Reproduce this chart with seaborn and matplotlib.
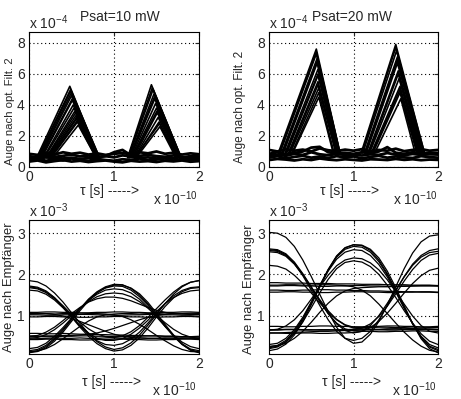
import matplotlib
matplotlib.use("Agg")
import matplotlib.pyplot as plt
import pandas as pd
import seaborn as sns

# time axis in units of 1e-10 s
T_GRID = [0.0, 0.1, 0.2, 0.3, 0.4, 0.5, 0.6, 0.7, 0.8, 0.9, 1.0,
          1.1, 1.2, 1.3, 1.4, 1.5, 1.6, 1.7, 1.8, 1.9, 2.0]

# ---- optical eye after filter, Psat = 10 mW (units 1e-4) ----
f10_base_level = 0.6
f10_rise = [0.09, 0.10, 0.11, 0.12, 0.13, 0.14, 0.15, 0.17, 0.18, 0.20, 0.21, 0.22, 0.23, 0.24, 0.25, 0.26, 0.28,
            1.16, 1.165, 1.17, 1.18, 1.185, 1.19, 1.20, 1.21, 1.215, 1.23, 1.24, 1.245, 1.25, 1.26]
f10_peak_t = [0.48, 0.49, 0.49, 0.50, 0.50, 0.51, 0.51, 0.52, 0.53, 0.54, 0.55, 0.55, 0.56, 0.56, 0.57, 0.57, 0.58,
              1.44, 1.45, 1.46, 1.47, 1.475, 1.48, 1.49, 1.50, 1.505, 1.51, 1.52, 1.535, 1.53, 1.54]
f10_peak_v = [5.2, 5.0, 4.9, 4.8, 4.6, 4.4, 4.3, 4.0, 3.8, 3.6, 3.5, 3.3, 3.2, 3.1, 3.0, 2.9, 2.7,
              5.3, 5.1, 5.0, 4.7, 4.5, 4.4, 4.1, 3.8, 3.6, 3.5, 3.2, 2.8, 2.9, 2.6]
f10_fall = [0.82, 0.83, 0.83, 0.82, 0.82, 0.81, 0.81, 0.82, 0.81, 0.81, 0.81, 0.80, 0.80, 0.80, 0.80, 0.79, 0.79,
            1.79, 1.79, 1.79, 1.78, 1.78, 1.78, 1.77, 1.77, 1.77, 1.76, 1.75, 1.74, 1.74, 1.73]
f10_zeros = [
    [0.45, 0.55, 0.40, 0.50, 0.42, 0.55, 0.45, 0.40, 0.52, 0.45, 0.40, 0.50, 0.45, 0.55, 0.42, 0.48, 0.55, 0.42, 0.50, 0.45, 0.48],
    [0.70, 0.62, 0.75, 0.65, 0.72, 0.80, 0.68, 0.74, 0.65, 0.70, 0.62, 0.75, 0.68, 0.72, 0.78, 0.70, 0.66, 0.75, 0.62, 0.70, 0.68],
    [0.85, 0.78, 0.90, 0.80, 0.95, 0.85, 0.92, 0.80, 0.88, 0.78, 0.85, 0.90, 0.82, 0.95, 0.88, 1.00, 0.85, 0.92, 0.80, 0.88, 0.82],
    [0.35, 0.42, 0.30, 0.38, 0.45, 0.35, 0.40, 0.32, 0.38, 0.42, 0.35, 0.30, 0.40, 0.35, 0.38, 0.32, 0.40, 0.36, 0.42, 0.34, 0.38],
    [0.60, 0.55, 0.62, 0.58, 0.55, 0.60, 0.52, 0.58, 0.62, 0.70, 0.95, 1.10, 0.75, 0.58, 0.62, 0.55, 0.60, 0.58, 0.64, 0.56, 0.60],
]

# ---- optical eye after filter, Psat = 20 mW (units 1e-4) ----
f20_base_level = 0.9
f20_rise = [0.11, 0.12, 0.13, 0.15, 0.16, 0.17, 0.19, 0.20, 0.21, 0.23, 0.24, 0.25, 0.27, 0.28,
            1.09, 1.10, 1.11, 1.13, 1.14, 1.15, 1.17, 1.18, 1.19, 1.21, 1.22, 1.23, 1.25]
f20_peak_t = [0.56, 0.56, 0.56, 0.57, 0.57, 0.57, 0.58, 0.58, 0.58, 0.58, 0.58, 0.59, 0.59, 0.59,
              1.50, 1.50, 1.51, 1.52, 1.52, 1.52, 1.53, 1.53, 1.54, 1.55, 1.55, 1.55, 1.56]
f20_peak_v = [7.6, 7.4, 7.3, 7.0, 6.8, 6.7, 6.3, 6.0, 5.9, 5.5, 5.3, 5.1, 4.8, 4.5,
              7.9, 7.7, 7.5, 7.1, 6.9, 6.7, 6.2, 6.0, 5.7, 5.2, 5.0, 4.8, 4.4]
f20_fall = [0.84, 0.84, 0.84, 0.83, 0.83, 0.83, 0.82, 0.81, 0.81, 0.80, 0.80, 0.79, 0.77, 0.76,
            1.84, 1.84, 1.83, 1.82, 1.82, 1.81, 1.80, 1.79, 1.78, 1.77, 1.76, 1.75, 1.73]
f20_zeros = [
    [0.85, 0.95, 0.80, 0.90, 1.00, 1.25, 1.30, 0.95, 0.88, 0.92, 0.85, 0.95, 0.90, 1.00, 1.28, 0.92, 0.85, 0.95, 0.88, 0.92, 0.90],
    [0.60, 0.70, 0.55, 0.65, 0.72, 0.60, 0.68, 0.58, 0.70, 0.62, 0.68, 0.55, 0.65, 0.72, 0.60, 0.68, 0.62, 0.58, 0.70, 0.64, 0.60],
    [1.10, 1.00, 1.15, 1.05, 1.12, 1.00, 1.20, 1.08, 1.02, 1.12, 1.05, 1.15, 1.00, 1.10, 1.05, 1.18, 1.02, 1.10, 1.15, 1.05, 1.10],
    [0.45, 0.52, 0.48, 0.42, 0.50, 0.45, 0.55, 0.48, 0.44, 0.50, 0.46, 0.42, 0.50, 0.48, 0.45, 0.52, 0.46, 0.50, 0.44, 0.48, 0.46],
    [0.75, 0.80, 0.72, 0.85, 0.78, 0.95, 0.82, 0.76, 0.84, 0.78, 0.80, 0.74, 0.82, 0.78, 0.90, 0.80, 0.76, 0.84, 0.78, 0.82, 0.80],
]

# ---- electrical eye after receiver, Psat = 10 mW (units 1e-3) ----
rx10_traces = [
    [0.12, 0.15, 0.25, 0.42, 0.64, 0.90, 1.16, 1.40, 1.58, 1.70, 1.76, 1.75, 1.66, 1.50, 1.28, 1.02, 0.76, 0.52, 0.32, 0.19, 0.15],
    [0.15, 0.18, 0.28, 0.45, 0.67, 0.92, 1.17, 1.39, 1.56, 1.67, 1.72, 1.71, 1.62, 1.46, 1.25, 1.00, 0.74, 0.50, 0.30, 0.17, 0.12],
    [0.20, 0.23, 0.33, 0.50, 0.71, 0.94, 1.17, 1.37, 1.52, 1.62, 1.65, 1.63, 1.55, 1.40, 1.20, 0.97, 0.74, 0.53, 0.36, 0.25, 0.20],
    [0.45, 0.47, 0.54, 0.66, 0.82, 1.00, 1.18, 1.34, 1.46, 1.53, 1.55, 1.53, 1.46, 1.34, 1.18, 1.00, 0.83, 0.67, 0.55, 0.48, 0.45],
    [0.10, 0.13, 0.22, 0.38, 0.60, 0.86, 1.12, 1.36, 1.55, 1.68, 1.74, 1.74, 1.67, 1.53, 1.32, 1.06, 0.79, 0.53, 0.31, 0.16, 0.10],
    [0.50, 0.52, 0.60, 0.72, 0.88, 1.05, 1.20, 1.33, 1.41, 1.45, 1.45, 1.42, 1.36, 1.28, 1.20, 1.13, 1.08, 1.05, 1.04, 1.03, 1.03],
    [1.85, 1.82, 1.72, 1.55, 1.33, 1.07, 0.81, 0.57, 0.37, 0.24, 0.18, 0.22, 0.34, 0.53, 0.77, 1.03, 1.29, 1.52, 1.70, 1.81, 1.85],
    [1.68, 1.65, 1.56, 1.41, 1.21, 0.98, 0.75, 0.55, 0.39, 0.30, 0.28, 0.32, 0.43, 0.60, 0.82, 1.06, 1.29, 1.48, 1.61, 1.68, 1.70],
    [1.62, 1.60, 1.52, 1.38, 1.19, 0.97, 0.76, 0.58, 0.45, 0.40, 0.40, 0.44, 0.55, 0.70, 0.89, 1.10, 1.29, 1.44, 1.54, 1.60, 1.62],
    [1.72, 1.69, 1.60, 1.44, 1.22, 0.97, 0.72, 0.50, 0.32, 0.20, 0.14, 0.17, 0.28, 0.46, 0.70, 0.97, 1.22, 1.43, 1.58, 1.66, 1.68],
    [1.70, 1.67, 1.58, 1.43, 1.24, 1.03, 0.84, 0.68, 0.56, 0.49, 0.46, 0.45, 0.45, 0.46, 0.45, 0.45, 0.46, 0.45, 0.45, 0.46, 0.45],
    [1.05, 1.05, 1.05, 1.03, 0.99, 0.93, 0.86, 0.78, 0.70, 0.62, 0.55, 0.50, 0.47, 0.46, 0.45, 0.45, 0.45, 0.46, 0.46, 0.45, 0.45],
    [0.46, 0.45, 0.45, 0.46, 0.45, 0.45, 0.46, 0.45, 0.45, 0.46, 0.47, 0.51, 0.61, 0.76, 0.96, 1.17, 1.38, 1.57, 1.72, 1.81, 1.85],
    [0.50, 0.50, 0.51, 0.51, 0.52, 0.52, 0.53, 0.55, 0.58, 0.63, 0.69, 0.76, 0.83, 0.90, 0.96, 1.00, 1.03, 1.05, 1.05, 1.06, 1.06],
    [1.04, 1.05, 1.05, 1.04, 1.05, 1.05, 1.04, 1.05, 1.05, 1.04, 1.02, 0.98, 0.90, 0.79, 0.66, 0.52, 0.39, 0.27, 0.18, 0.13, 0.12],
    [0.12, 0.14, 0.20, 0.30, 0.44, 0.59, 0.74, 0.87, 0.97, 1.02, 1.04, 1.05, 1.05, 1.04, 1.05, 1.05, 1.04, 1.05, 1.05, 1.04, 1.05],
    [1.08, 1.08, 1.09, 1.09, 1.08, 1.08, 1.07, 1.07, 1.08, 1.08, 1.09, 1.09, 1.08, 1.08, 1.07, 1.07, 1.08, 1.08, 1.09, 1.09, 1.08],
    [1.02, 1.02, 1.01, 1.01, 1.02, 1.02, 1.03, 1.03, 1.02, 1.02, 1.01, 1.01, 1.02, 1.02, 1.03, 1.03, 1.02, 1.02, 1.01, 1.01, 1.02],
    [0.97, 0.97, 0.98, 0.98, 0.97, 0.97, 0.96, 0.96, 0.97, 0.97, 0.98, 0.98, 0.97, 0.97, 0.96, 0.96, 0.97, 0.97, 0.98, 0.98, 0.97],
    [0.50, 0.50, 0.49, 0.49, 0.50, 0.50, 0.51, 0.51, 0.50, 0.50, 0.49, 0.49, 0.50, 0.50, 0.51, 0.51, 0.50, 0.50, 0.49, 0.49, 0.50],
    [0.42, 0.42, 0.43, 0.43, 0.42, 0.42, 0.41, 0.41, 0.42, 0.42, 0.43, 0.43, 0.42, 0.42, 0.41, 0.41, 0.42, 0.42, 0.43, 0.43, 0.42],
    [0.57, 0.57, 0.56, 0.56, 0.57, 0.56, 0.55, 0.55, 0.54, 0.54, 0.53, 0.53, 0.52, 0.52, 0.51, 0.51, 0.50, 0.50, 0.49, 0.49, 0.48],
]

# ---- electrical eye after receiver, Psat = 20 mW (units 1e-3) ----
rx20_traces = [
    [0.20, 0.24, 0.36, 0.58, 0.90, 1.30, 1.72, 2.12, 2.45, 2.65, 2.72, 2.70, 2.58, 2.35, 2.02, 1.62, 1.20, 0.80, 0.47, 0.24, 0.15],
    [0.25, 0.28, 0.40, 0.62, 0.93, 1.32, 1.73, 2.11, 2.42, 2.61, 2.68, 2.66, 2.54, 2.31, 1.99, 1.60, 1.19, 0.80, 0.48, 0.26, 0.18],
    [0.30, 0.33, 0.45, 0.66, 0.96, 1.33, 1.72, 2.08, 2.37, 2.54, 2.60, 2.58, 2.46, 2.24, 1.94, 1.57, 1.18, 0.81, 0.50, 0.30, 0.22],
    [0.65, 0.67, 0.75, 0.90, 1.12, 1.40, 1.70, 1.98, 2.21, 2.35, 2.40, 2.38, 2.28, 2.11, 1.87, 1.58, 1.28, 0.99, 0.76, 0.62, 0.58],
    [0.15, 0.19, 0.31, 0.53, 0.85, 1.26, 1.69, 2.10, 2.44, 2.64, 2.72, 2.71, 2.61, 2.40, 2.08, 1.68, 1.24, 0.81, 0.44, 0.20, 0.10],
    [0.22, 0.26, 0.37, 0.57, 0.85, 1.19, 1.55, 1.88, 2.14, 2.29, 2.33, 2.30, 2.19, 2.00, 1.74, 1.44, 1.12, 0.82, 0.56, 0.38, 0.30],
    [3.02, 3.00, 2.90, 2.68, 2.35, 1.95, 1.52, 1.10, 0.72, 0.45, 0.33, 0.36, 0.55, 0.86, 1.26, 1.70, 2.14, 2.52, 2.79, 2.93, 2.96],
    [2.62, 2.60, 2.50, 2.30, 2.02, 1.70, 1.36, 1.05, 0.80, 0.64, 0.58, 0.62, 0.76, 1.00, 1.30, 1.62, 1.94, 2.22, 2.42, 2.53, 2.56],
    [2.58, 2.56, 2.46, 2.26, 1.97, 1.62, 1.25, 0.90, 0.62, 0.45, 0.40, 0.45, 0.62, 0.90, 1.24, 1.60, 1.95, 2.25, 2.46, 2.58, 2.62],
    [2.60, 2.58, 2.48, 2.28, 2.00, 1.68, 1.35, 1.05, 0.82, 0.68, 0.63, 0.62, 0.62, 0.61, 0.61, 0.62, 0.62, 0.63, 0.63, 0.62, 0.62],
    [2.55, 2.53, 2.44, 2.25, 1.99, 1.69, 1.39, 1.12, 0.91, 0.78, 0.72, 0.71, 0.71, 0.72, 0.72, 0.71, 0.71, 0.70, 0.70, 0.71, 0.71],
    [2.22, 2.20, 2.13, 1.98, 1.78, 1.55, 1.31, 1.09, 0.90, 0.77, 0.70, 0.68, 0.67, 0.67, 0.68, 0.68, 0.67, 0.67, 0.66, 0.66, 0.66],
    [0.65, 0.65, 0.66, 0.66, 0.65, 0.65, 0.66, 0.66, 0.65, 0.65, 0.66, 0.70, 0.80, 0.98, 1.23, 1.53, 1.84, 2.12, 2.34, 2.47, 2.51],
    [0.58, 0.58, 0.57, 0.57, 0.58, 0.58, 0.57, 0.57, 0.58, 0.58, 0.59, 0.62, 0.71, 0.86, 1.06, 1.30, 1.55, 1.78, 1.97, 2.10, 2.15],
    [0.25, 0.27, 0.33, 0.45, 0.62, 0.84, 1.08, 1.30, 1.48, 1.60, 1.66, 1.68, 1.69, 1.70, 1.70, 1.71, 1.71, 1.72, 1.72, 1.72, 1.72],
    [1.74, 1.74, 1.75, 1.75, 1.74, 1.74, 1.75, 1.75, 1.74, 1.73, 1.70, 1.62, 1.48, 1.28, 1.05, 0.82, 0.60, 0.41, 0.26, 0.16, 0.12],
    [1.80, 1.80, 1.79, 1.79, 1.79, 1.78, 1.78, 1.78, 1.77, 1.77, 1.77, 1.76, 1.76, 1.76, 1.75, 1.75, 1.75, 1.74, 1.74, 1.74, 1.73],
    [1.72, 1.72, 1.73, 1.73, 1.72, 1.72, 1.71, 1.71, 1.72, 1.72, 1.73, 1.73, 1.72, 1.72, 1.71, 1.71, 1.72, 1.72, 1.73, 1.73, 1.72],
    [1.62, 1.62, 1.61, 1.61, 1.62, 1.62, 1.63, 1.63, 1.62, 1.62, 1.61, 1.61, 1.60, 1.60, 1.59, 1.59, 1.58, 1.58, 1.57, 1.57, 1.56],
    [1.57, 1.57, 1.58, 1.58, 1.57, 1.57, 1.56, 1.56, 1.57, 1.57, 1.58, 1.58, 1.57, 1.57, 1.56, 1.56, 1.57, 1.57, 1.58, 1.58, 1.57],
    [0.74, 0.74, 0.73, 0.73, 0.74, 0.74, 0.75, 0.75, 0.74, 0.74, 0.73, 0.73, 0.74, 0.74, 0.75, 0.75, 0.74, 0.74, 0.73, 0.73, 0.74],
    [0.66, 0.66, 0.67, 0.67, 0.66, 0.66, 0.65, 0.65, 0.66, 0.66, 0.67, 0.67, 0.66, 0.66, 0.65, 0.65, 0.66, 0.66, 0.67, 0.67, 0.66],
    [0.58, 0.58, 0.59, 0.60, 0.60, 0.61, 0.62, 0.62, 0.63, 0.64, 0.64, 0.65, 0.66, 0.66, 0.67, 0.68, 0.68, 0.69, 0.70, 0.70, 0.71],
]

W, H = 461, 399


def grid_frame(rows):
    recs = []
    for i, row in enumerate(rows):
        for t, v in zip(T_GRID, row):
            recs.append({"trace": i, "t": t, "v": v})
    return pd.DataFrame(recs)


def pulse_frame(rise, peak_t, peak_v, fall, base):
    recs = []
    for i, (r, pt, pv, f) in enumerate(zip(rise, peak_t, peak_v, fall)):
        for t, v in ((r, base), (pt, pv), (f, base)):
            recs.append({"trace": i, "t": t, "v": v})
    return pd.DataFrame(recs)


def draw(ax, frame, lw):
    sns.lineplot(data=frame, x="t", y="v", units="trace", estimator=None,
                 color="black", linewidth=lw, ax=ax, legend=False)


def style_axes(ax, ylim, yticks):
    ax.set_xlim(0, 2)
    ax.set_ylim(*ylim)
    ax.set_xticks([0, 1, 2])
    ax.set_yticks(yticks)
    ax.set_xticklabels(["0", "1", "2"])
    ax.set_yticklabels([str(v) for v in yticks])
    ax.grid(True, linestyle=(0, (1, 2.5)), color="black", linewidth=0.8)
    ax.tick_params(direction="in", length=3, labelsize=10,
                   top=True, right=True)
    ax.tick_params(axis="x", pad=2)
    ax.tick_params(axis="y", pad=3)
    ax.set_xlabel("")
    ax.set_ylabel("")
    for s in ax.spines.values():
        s.set_color("black")
        s.set_linewidth(0.8)


def ftext(x, y, s, **kw):
    fig.text(x / W, 1 - y / H, s, **kw)


sns.set_style("white")
plt.rcParams["font.family"] = ["Liberation Sans", "DejaVu Sans"]
plt.rcParams["mathtext.fontset"] = "custom"
plt.rcParams["mathtext.rm"] = "Liberation Sans"
plt.rcParams["mathtext.it"] = "Liberation Sans:italic"
plt.rcParams["mathtext.default"] = "regular"

fig = plt.figure(figsize=(W / 100, H / 100), dpi=100)
ax_tl = fig.add_axes([29 / W, 1 - 167 / H, 170 / W, 135 / H])
ax_tr = fig.add_axes([269 / W, 1 - 167 / H, 169 / W, 135 / H])
ax_bl = fig.add_axes([29 / W, 1 - 354 / H, 170 / W, 134 / H])
ax_br = fig.add_axes([269 / W, 1 - 354 / H, 169 / W, 134 / H])

draw(ax_tl, grid_frame(f10_zeros), 2.0)
draw(ax_tl, pulse_frame(f10_rise, f10_peak_t, f10_peak_v, f10_fall, f10_base_level), 1.2)
draw(ax_tr, grid_frame(f20_zeros), 2.0)
draw(ax_tr, pulse_frame(f20_rise, f20_peak_t, f20_peak_v, f20_fall, f20_base_level), 1.2)
draw(ax_bl, grid_frame(rx10_traces), 0.9)
draw(ax_br, grid_frame(rx20_traces), 0.9)

for ax in (ax_tl, ax_tr):
    style_axes(ax, (0, 8.7), [0, 2, 4, 6, 8])
for ax in (ax_bl, ax_br):
    style_axes(ax, (0.07, 3.32), [1, 2, 3])

for dx, tx, title in ((0, 80, "Psat=10 mW"), (240, 312, "Psat=20 mW")):
    ftext(29 + dx, 29, "x 10$^{-4}$", fontsize=10, va="baseline")
    ftext(tx, 21, title, fontsize=10, va="baseline")
    ftext(80 + dx, 195, "τ [s] ----->", fontsize=10, va="baseline")
    ftext(153 + dx, 205, "x 10$^{-10}$", fontsize=10, va="baseline")
    ftext(29 + dx, 217, "x 10$^{-3}$", fontsize=10, va="baseline")
    ftext(82 + dx, 386, "τ [s] ----->", fontsize=10, va="baseline")
    ftext(152 + dx, 396, "x 10$^{-10}$", fontsize=10, va="baseline")

ftext(10, 111, "Auge nach opt. Filt. 2", fontsize=8.2, rotation=90, ha="center", va="center")
ftext(240, 107, "Auge nach opt. Filt. 2", fontsize=8.6, rotation=90, ha="center", va="center")
ftext(9, 287, "Auge nach Empfänger", fontsize=9.4, rotation=90, ha="center", va="center")
ftext(249, 289, "Auge nach Empfänger", fontsize=9.4, rotation=90, ha="center", va="center")

fig.savefig("out.png", dpi=100, facecolor="white")
